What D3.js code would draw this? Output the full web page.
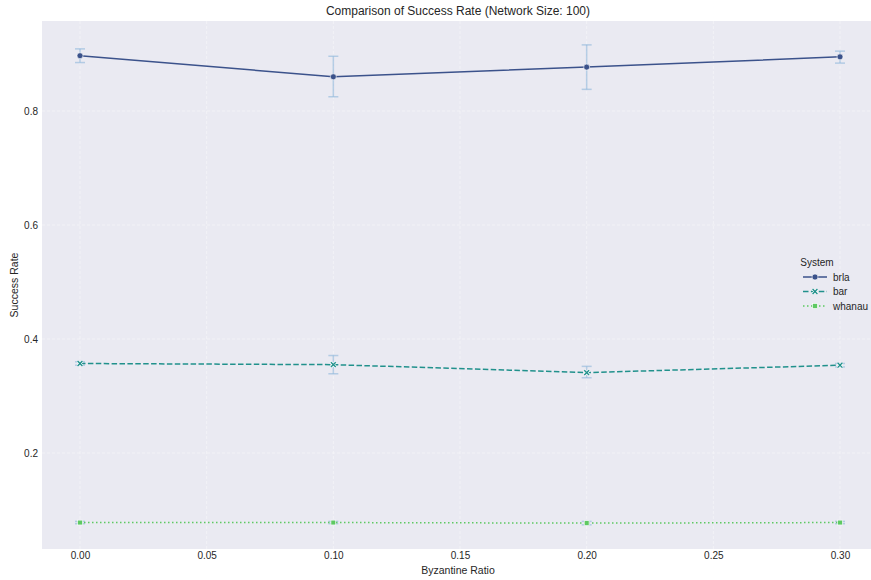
<!DOCTYPE html>
<html><head><meta charset="utf-8">
<script src="https://cdn.jsdelivr.net/npm/d3@7"></script>
<style>body{margin:0;background:#fff;}svg{display:block;font-family:"Liberation Sans",Arial,sans-serif;}</style>
</head><body><svg id="c" width="871" height="580"></svg>
<script>
const ratios = [0.00, 0.10, 0.20, 0.30];
const xTicks = [0.00, 0.05, 0.10, 0.15, 0.20, 0.25, 0.30];
const yTicks = [0.2, 0.4, 0.6, 0.8];
const systems = ["brla", "bar", "whanau"];
const brlaMean = [0.897, 0.860, 0.877, 0.895];
const brlaLo = [0.885, 0.825, 0.838, 0.884];
const brlaHi = [0.909, 0.896, 0.916, 0.905];
const barMean = [0.357, 0.355, 0.341, 0.354];
const barLo = [0.354, 0.339, 0.332, 0.351];
const barHi = [0.360, 0.371, 0.352, 0.357];
const whanauMean = [0.078, 0.078, 0.077, 0.078];
const whanauLo = [0.076, 0.076, 0.074, 0.076];
const whanauHi = [0.080, 0.080, 0.080, 0.080];
const colors = ["#3b528b", "#21918c", "#5ec962"];

const series = [
  {name: systems[0], mean: brlaMean, lo: brlaLo, hi: brlaHi, color: colors[0], dash: null, marker: "circle"},
  {name: systems[1], mean: barMean, lo: barLo, hi: barHi, color: colors[1], dash: "5.5,2.4", marker: "x"},
  {name: systems[2], mean: whanauMean, lo: whanauLo, hi: whanauHi, color: colors[2], dash: "1.5,2.5", marker: "square"}
];

const svg = d3.select("#c");
const L = 42, R = 878, T = 21, B = 549;
const x = d3.scaleLinear().domain([-0.015, 0.315]).range([L, R]);
const y = d3.scaleLinear().domain([0.8 + 90/570, 0.8 - 438/570]).range([T, B]);

svg.append("rect").attr("x", L).attr("y", T).attr("width", R - L).attr("height", B - T).attr("fill", "#eaeaf2");

const g = svg.append("g");
g.selectAll(".gx").data(xTicks).join("line")
  .attr("x1", d => x(d)).attr("x2", d => x(d)).attr("y1", T).attr("y2", B)
  .attr("stroke", "#fff").attr("stroke-width", 0.8).attr("stroke-dasharray", "3,2").attr("opacity", 0.55);
g.selectAll(".gy").data(yTicks).join("line")
  .attr("y1", d => y(d)).attr("y2", d => y(d)).attr("x1", L).attr("x2", R)
  .attr("stroke", "#fff").attr("stroke-width", 0.8).attr("stroke-dasharray", "3,2").attr("opacity", 0.55);

// axes tick labels
const xAxis = d3.axisBottom(x).tickValues(xTicks).tickFormat(d3.format(".2f")).tickSize(0).tickPadding(3);
const xa = svg.append("g").attr("transform", `translate(0,${B})`).call(xAxis);
xa.select(".domain").remove();
xa.selectAll("text").attr("font-size", 10).attr("fill", "#262626").attr("font-family", "Liberation Sans, Arial, sans-serif");
const yAxis = d3.axisLeft(y).tickValues(yTicks).tickFormat(d3.format(".1f")).tickSize(0).tickPadding(4);
const ya = svg.append("g").attr("transform", `translate(${L},0)`).call(yAxis);
ya.select(".domain").remove();
ya.selectAll("text").attr("font-size", 10).attr("fill", "#262626").attr("font-family", "Liberation Sans, Arial, sans-serif");

// error bars
const eb = svg.append("g");
series.forEach(s => {
  ratios.forEach((r, i) => {
    const cx = x(r);
    eb.append("line").attr("x1", cx).attr("x2", cx).attr("y1", y(s.lo[i])).attr("y2", y(s.hi[i]))
      .attr("stroke", "#8fb8dc").attr("stroke-width", 1.5).attr("opacity", 0.6);
    [s.lo[i], s.hi[i]].forEach(v => {
      eb.append("line").attr("x1", cx - 5).attr("x2", cx + 5).attr("y1", y(v)).attr("y2", y(v))
        .attr("stroke", "#8fb8dc").attr("stroke-width", 1.5).attr("opacity", 0.6);
    });
  });
});

const line = d3.line().x((d, i) => x(ratios[i])).y(d => y(d));
function drawMarker(sel, type, cx, cy, color, size) {
  if (type === "circle") {
    sel.append("circle").attr("cx", cx).attr("cy", cy).attr("r", size).attr("fill", color).attr("stroke", "#fff").attr("stroke-width", 0.6);
  } else if (type === "square") {
    sel.append("rect").attr("x", cx - size).attr("y", cy - size).attr("width", size * 2).attr("height", size * 2)
      .attr("fill", color).attr("stroke", "#fff").attr("stroke-width", 0.6);
  } else {
    const s = size;
    sel.append("path").attr("d", `M${cx - s},${cy - s}L${cx + s},${cy + s}M${cx - s},${cy + s}L${cx + s},${cy - s}`)
      .attr("stroke", "#fff").attr("stroke-width", 2.6).attr("fill", "none");
    sel.append("path").attr("d", `M${cx - s},${cy - s}L${cx + s},${cy + s}M${cx - s},${cy + s}L${cx + s},${cy - s}`)
      .attr("stroke", color).attr("stroke-width", 1.4).attr("fill", "none");
  }
}
const lg = svg.append("g");
series.forEach(s => {
  lg.append("path").attr("d", line(s.mean)).attr("fill", "none").attr("stroke", s.color)
    .attr("stroke-width", 1.5).attr("stroke-dasharray", s.dash);
  ratios.forEach((r, i) => drawMarker(lg, s.marker, x(r), y(s.mean[i]), s.color, s.marker === "circle" ? 3 : 2.4));
});

// title & labels
svg.append("text").attr("x", (L + R) / 2 - 2).attr("y", 15).attr("text-anchor", "middle")
  .attr("font-size", 12).attr("fill", "#262626").text("Comparison of Success Rate (Network Size: 100)");
svg.append("text").attr("x", (L + R) / 2 - 2).attr("y", 574).attr("text-anchor", "middle")
  .attr("font-size", 10.5).attr("fill", "#262626").text("Byzantine Ratio");
svg.append("text").attr("transform", `translate(18,${(T + B) / 2}) rotate(-90)`).attr("text-anchor", "middle")
  .attr("font-size", 10.5).attr("fill", "#262626").text("Success Rate");

// legend
const leg = svg.append("g");
leg.append("text").attr("x", 817).attr("y", 266).attr("text-anchor", "middle").attr("font-size", 10).attr("fill", "#262626").text("System");
series.forEach((s, i) => {
  const ly = 277 + i * 14.5;
  leg.append("line").attr("x1", 803).attr("x2", 827).attr("y1", ly).attr("y2", ly)
    .attr("stroke", s.color).attr("stroke-width", 1.5).attr("stroke-dasharray", s.dash);
  drawMarker(leg, s.marker, 815, ly, s.color, s.marker === "circle" ? 3 : 2.4);
  leg.append("text").attr("x", 833).attr("y", ly + 3.5).attr("font-size", 10).attr("fill", "#262626").text(s.name);
});
</script></body></html>
